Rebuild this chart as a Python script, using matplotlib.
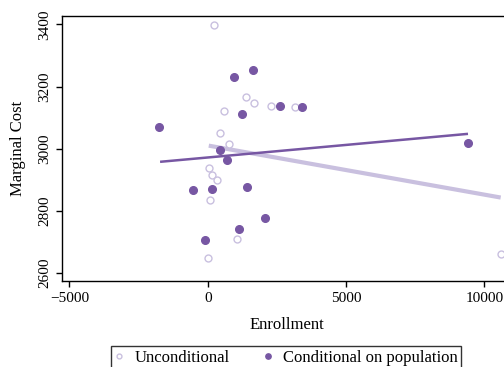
import matplotlib
matplotlib.use("Agg")
from matplotlib import pyplot as plt

plt.rcParams['font.family'] = ['Liberation Serif', 'DejaVu Serif']

# unconditional (hollow) points
unc_x = [239, 1373, 1685, 578, 2277, 3144, 434, 770, 36, 145, 336, 83, 1059, 11, 10589]
unc_y = [3397, 3166, 3148, 3120, 3138, 3135, 3050, 3016, 2939, 2915, 2898, 2836, 2710, 2650, 2661]

# conditional on population (filled) points
cond_x = [1648, 940, -1749, 1240, 2613, 3419, 434, 708, 9407, -520, 155, 1420, 2071, 1120, -98]
cond_y = [3253, 3230, 3071, 3112, 3137, 3134, 2996, 2963, 3018, 2868, 2869, 2878, 2776, 2742, 2707]

# fitted lines
unc_fit_x = [36, 10589]
unc_fit_y = [3010, 2843]
cond_fit_x = [-1724, 9407]
cond_fit_y = [2958, 3048]

dark = '#7757a3'
light = '#c9c0df'

fig = plt.figure(figsize=(5.04, 3.67), dpi=100)
ax = fig.add_axes([0.123, 0.234, 0.893, 0.723])

ax.plot(unc_fit_x, unc_fit_y, color=light, lw=3, solid_capstyle='butt', zorder=2)
ax.plot(cond_fit_x, cond_fit_y, color=dark, lw=1.8, solid_capstyle='butt', zorder=3)
ax.plot(unc_x, unc_y, 'o', ms=5, mfc='white', mec=light, mew=1.0, ls='none',
        label='Unconditional', zorder=4)
ax.plot(cond_x, cond_y, 'o', ms=5.5, mfc=dark, mec=dark, ls='none',
        label='Conditional on population', zorder=5)

ax.set_xlim(-5270, 11000)
ax.set_ylim(2574, 3428)
ax.set_xticks([-5000, 0, 5000, 10000])
ax.set_yticks([2600, 2800, 3000, 3200, 3400])
ax.tick_params(direction='out', length=4, labelsize=11, width=1)
for lab in ax.get_yticklabels():
    lab.set_rotation(90)
    lab.set_va('center')
ax.set_xlabel('Enrollment', fontsize=12, labelpad=9)
ax.set_ylabel('Marginal Cost', fontsize=12, labelpad=9)
for s in ax.spines.values():
    s.set_linewidth(1)

fig.legend(loc='upper center', bbox_to_anchor=(286 / 504, 1 - 338 / 367), ncol=2,
           fontsize=12, frameon=True, fancybox=False, edgecolor='black',
           markerscale=0.7, handlelength=0.6, handletextpad=0.6, columnspacing=2.0,
           borderpad=0.2)

fig.savefig('out.png', dpi=100)
